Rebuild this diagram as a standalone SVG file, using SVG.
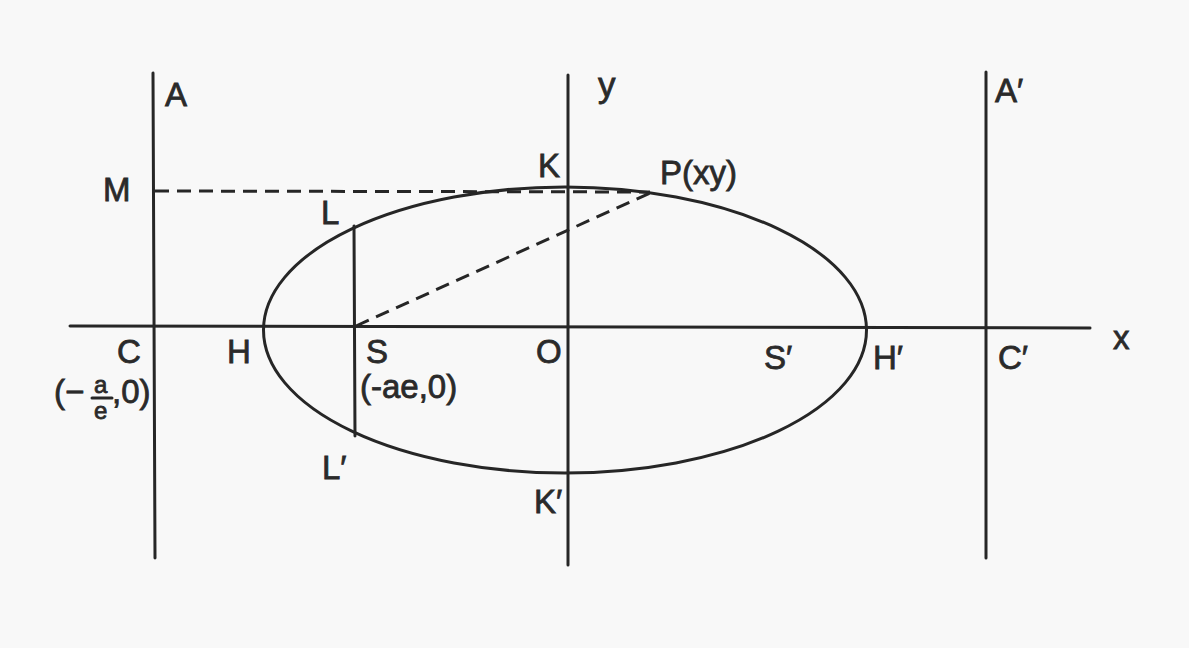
<svg xmlns="http://www.w3.org/2000/svg" width="1189" height="648" viewBox="0 0 1189 648">
<style>
.ln{stroke:#262626;stroke-width:3;fill:none;stroke-linecap:round}
.ds{stroke:#262626;stroke-width:3;fill:none;stroke-dasharray:14 8}
.t{font-family:"Liberation Sans","DejaVu Sans",sans-serif;font-size:33px;fill:#2a2a2a;stroke:#2a2a2a;stroke-width:0.8}
</style>
<rect width="1189" height="648" fill="#f8f8f8"/>
<g id="axes">
<line class="ln" x1="70" y1="326" x2="1090" y2="328"/>
<line class="ln" x1="568" y1="75" x2="568" y2="565"/>
<line class="ln" x1="153" y1="73" x2="155" y2="558"/>
<line class="ln" x1="986" y1="72" x2="986" y2="558"/>
</g>
<g id="ellipse">
<ellipse class="ln" cx="565" cy="330" rx="301.5" ry="143"/>
<line class="ln" x1="354" y1="226" x2="355" y2="436"/>
</g>
<g id="connectors">
<line class="ds" x1="155" y1="191" x2="650" y2="192"/>
<line class="ds" x1="356" y1="326" x2="650" y2="193"/>
</g>
<g id="labels">
<text class="t" x="165" y="106">A</text>
<text class="t" x="598" y="97" style="font-size:35px">y</text>
<text class="t" x="995" y="102">A′</text>
<text class="t" x="103" y="201">M</text>
<text class="t" x="538" y="177">K</text>
<text class="t" x="660" y="184">P(xy)</text>
<text class="t" x="321" y="224">L</text>
<text class="t" x="117" y="363">C</text>
<text class="t" x="227" y="363">H</text>
<text class="t" x="366" y="363">S</text>
<text class="t" x="536" y="363">O</text>
<text class="t" x="764" y="369">S′</text>
<text class="t" x="873" y="369">H′</text>
<text class="t" x="998" y="369">C′</text>
<text class="t" x="1113" y="349">x</text>
<text class="t" x="54" y="403">(−</text>
<text class="t" x="94" y="393" style="font-size:24px">a</text>
<line class="ln" x1="92" y1="398" x2="112" y2="398"/>
<text class="t" x="94" y="419" style="font-size:24px">e</text>
<text class="t" x="112" y="403">,0)</text>
<text class="t" x="360" y="398">(-ae,0)</text>
<text class="t" x="322" y="479">L′</text>
<text class="t" x="534" y="513">K′</text>
</g>
</svg>
